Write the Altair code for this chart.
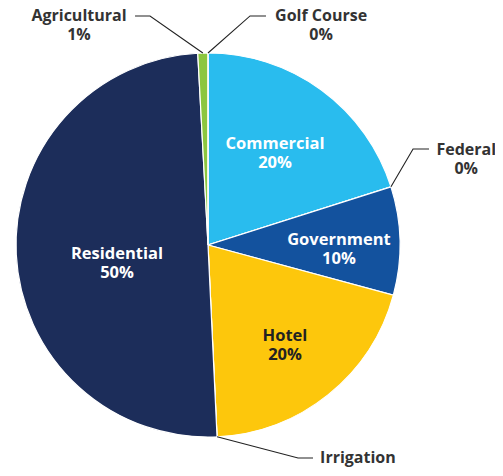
import math
import altair as alt
import pandas as pd

# ---- data ----
categories = ["Commercial", "Federal", "Government", "Hotel", "Irrigation",
              "Residential", "Agricultural", "Golf Course"]
values = [20.1, 0.0, 9.1, 20.05, 0.0, 49.9, 0.85, 0.0]
pct_labels = ["20%", "0%", "10%", "20%", "0%", "50%", "1%", "0%"]
slice_colors = ["#29BCEE", "#0F4F9C", "#13529E", "#FDC70C", "#1C2D5A",
                "#1C2D5A", "#8CC63F", "#8CC63F"]

inner = ["Commercial", "Government", "Hotel", "Residential"]
outer = ["Agricultural", "Golf Course", "Federal", "Irrigation"]

# label layout (in units of the pie radius, relative to the pie centre)
label_x = {"Commercial": 0.349, "Government": 0.682, "Hotel": 0.401, "Residential": -0.474,
           "Agricultural": -0.672, "Golf Course": 0.589, "Federal": 1.345, "Irrigation": 0.781}
label_y = {"Commercial": 0.479, "Government": -0.026, "Hotel": -0.521, "Residential": -0.094,
           "Agricultural": 1.141, "Golf Course": 1.141, "Federal": 0.443, "Irrigation": -1.161}
label_color = {"Commercial": "#FFFFFF", "Government": "#FFFFFF", "Hotel": "#222222",
               "Residential": "#FFFFFF"}
# leader line elbow / end points (units of radius)
elbow = {"Agricultural": (-0.302, 1.193), "Golf Course": (0.219, 1.193),
         "Federal": (1.068, 0.500), "Irrigation": (0.469, -1.109)}
tail = {"Agricultural": (-0.380, 1.193), "Golf Course": (0.302, 1.193),
        "Federal": (1.151, 0.500), "Irrigation": (0.547, -1.109)}

# ---- geometry ----
W, H = 487, 460
CX, CY, R = 200, 237, 192
LH = 19
x_dom = [(0 - CX) / R, (W - CX) / R]
y_dom = [(CY - H) / R, CY / R]

total = sum(values)
cum = 0.0
anchor = {}
for c, v in zip(categories, values):
    mid = (cum + v / 2) / total * 2 * math.pi
    anchor[c] = (math.sin(mid), math.cos(mid))
    cum += v

pie_df = pd.DataFrame({"category": categories, "value": values,
                       "order": list(range(len(categories)))})

lbl_rows = []
for c, p in zip(categories, pct_labels):
    is_inner = c in inner
    lbl_rows.append({"category": c, "text": f"{c}\n{p}", "x": label_x[c], "y": label_y[c],
                     "color": label_color.get(c, "#333333"), "inner": is_inner})
lbl_df = pd.DataFrame(lbl_rows)

lead_rows = []
for c in outer:
    pts = [anchor[c], elbow[c], tail[c]]
    for i, (px, py) in enumerate(pts):
        lead_rows.append({"category": c, "i": i, "x": px, "y": py})
lead_df = pd.DataFrame(lead_rows)

xs = alt.Scale(domain=x_dom, range=[0, W], nice=False, zero=False)
ys = alt.Scale(domain=y_dom, range=[H, 0], nice=False, zero=False)

pie = alt.Chart(pie_df).mark_arc(radius=R, stroke="#FFFFFF", strokeWidth=1.2).encode(
    theta=alt.Theta("value:Q", stack=True),
    order=alt.Order("order:Q"),
    color=alt.Color("category:N", scale=alt.Scale(domain=categories, range=slice_colors),
                    legend=None),
    x=alt.value(CX),
    y=alt.value(CY),
)

leaders = alt.Chart(lead_df).mark_line(color="#222222", strokeWidth=1.1).encode(
    x=alt.X("x:Q", scale=xs, axis=None),
    y=alt.Y("y:Q", scale=ys, axis=None),
    detail="category:N",
    order="i:Q",
)

inner_text = alt.Chart(lbl_df[lbl_df["inner"]]).mark_text(
    font="Open Sans", fontSize=16.5, fontWeight="bold", lineBreak="\n", lineHeight=LH,
    align="center", baseline="middle", dy=-LH / 2,
).encode(
    x=alt.X("x:Q", scale=xs, axis=None),
    y=alt.Y("y:Q", scale=ys, axis=None),
    text="text:N",
    color=alt.Color("color:N", scale=None),
)

outer_text = alt.Chart(lbl_df[~lbl_df["inner"]]).mark_text(
    font="Open Sans", fontSize=16, fontWeight="bold", lineBreak="\n", lineHeight=LH,
    align="center", baseline="middle", color="#333333", dy=-LH / 2,
).encode(
    x=alt.X("x:Q", scale=xs, axis=None),
    y=alt.Y("y:Q", scale=ys, axis=None),
    text="text:N",
)

chart = alt.layer(pie, leaders, inner_text, outer_text).properties(
    width=W, height=H, padding=0, autosize=alt.AutoSizeParams(type="none"),
).configure_view(stroke=None).resolve_scale(color="independent")

chart.save("out.html", embed_options={"renderer": "svg", "actions": False})
